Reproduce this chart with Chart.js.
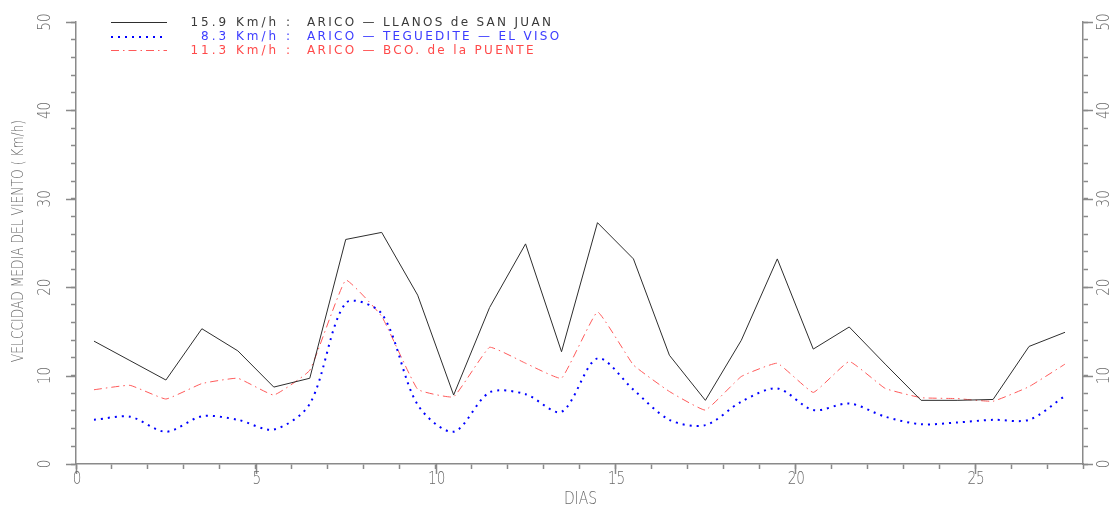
<!DOCTYPE html>
<html>
<head>
<meta charset="utf-8">
<script src="https://cdn.jsdelivr.net/npm/chart.js@4/dist/chart.umd.min.js"></script>
<style>
  html, body { margin: 0; padding: 0; background: #fff; }
  #wrap { width: 1113px; height: 508px; position: relative; }
  #c { display: block; }
</style>
</head>
<body>
<div id="wrap"><canvas id="c" width="1113" height="508"></canvas></div>
<script>
// Daily mean wind speed (km/h) at three Arico stations, days plotted at mid-day
const days = [0.5, 1.5, 2.5, 3.5, 4.5, 5.5, 6.5, 7.5, 8.5, 9.5, 10.5, 11.5, 12.5, 13.5,
              14.5, 15.5, 16.5, 17.5, 18.5, 19.5, 20.5, 21.5, 22.5, 23.5, 24.5, 25.5, 26.5, 27.5];
const llanosSanJuan = [13.9, 11.7, 9.5, 15.3, 12.8, 8.7, 9.7, 25.4, 26.2, 19.1, 7.8, 17.7, 24.9, 12.7,
                       27.3, 23.2, 12.3, 7.2, 14.0, 23.2, 13.0, 15.5, 11.3, 7.2, 7.2, 7.3, 13.3, 14.9];
const teguediteViso = [5.0, 5.35, 3.65, 5.4, 5.0, 3.9, 6.8, 18.2, 17.0, 6.7, 3.65, 8.1, 7.9, 5.9,
                       11.95, 8.4, 5.0, 4.4, 7.05, 8.55, 6.1, 6.85, 5.35, 4.5, 4.7, 5.0, 5.0, 7.7];
const bcoPuente = [8.4, 8.9, 7.35, 9.1, 9.7, 7.8, 10.6, 20.8, 16.7, 8.45, 7.6, 13.2, 11.4, 9.7,
                   17.2, 11.2, 8.2, 6.1, 9.9, 11.4, 8.1, 11.6, 8.55, 7.5, 7.4, 7.1, 8.75, 11.3];

const seriesMeans = ['15.9 Km/h :', '8.3 Km/h :', '11.3 Km/h :'];
const seriesNames = ['ARICO \u2014 LLANOS de SAN JUAN', 'ARICO \u2014 TEGUEDITE \u2014 EL VISO', 'ARICO \u2014 BCO. de la PUENTE'];
const xTitle = 'DIAS';
const yTitle = 'VELCCIDAD MEDIA DEL VIENTO ( Km/h)';
const xTickLabels = [0, 5, 10, 15, 20, 25];
const yTickLabels = [0, 10, 20, 30, 40, 50];

const AXIS_GRAY = '#8a8a8a';
const TEXT_GRAY = '#6a6a6a';
const FONT = '"DejaVu Sans", sans-serif';

const pts = (vals) => days.map((d, i) => ({ x: d, y: vals[i] }));

// draws condensed text: sx squeezes along the writing direction
function narrowText(ctx, text, x, y, angle, sx) {
  ctx.save();
  ctx.translate(x, y);
  ctx.rotate(angle);
  ctx.scale(sx, 1);
  ctx.fillText(text, 0, 0);
  ctx.restore();
}

// Legend, axis titles, tick labels and long major ticks
const decor = {
  id: 'decor',
  afterDraw(chart) {
    const ctx = chart.ctx;
    const area = chart.chartArea;
    const x = chart.scales.x, y = chart.scales.y, y2 = chart.scales.y2;
    ctx.save();

    // long ticks at labelled values
    ctx.strokeStyle = AXIS_GRAY;
    ctx.lineWidth = 1.5;
    xTickLabels.forEach(v => {
      const px = Math.round(x.getPixelForValue(v)) + 0.5;
      ctx.beginPath(); ctx.moveTo(px, area.bottom); ctx.lineTo(px, area.bottom + 10); ctx.stroke();
    });
    yTickLabels.forEach(v => {
      const py = Math.round(y.getPixelForValue(v)) + 0.5;
      ctx.beginPath(); ctx.moveTo(area.left - 10, py); ctx.lineTo(area.left, py); ctx.stroke();
      ctx.beginPath(); ctx.moveTo(area.right, py); ctx.lineTo(area.right + 10, py); ctx.stroke();
    });

    // tick labels
    ctx.fillStyle = TEXT_GRAY;
    ctx.font = '200 17px ' + FONT;
    ctx.textAlign = 'center';
    ctx.textBaseline = 'middle';
    xTickLabels.forEach(v => {
      narrowText(ctx, String(v), x.getPixelForValue(v) + 1, area.bottom + 16, 0, 0.8);
    });
    yTickLabels.forEach(v => {
      narrowText(ctx, String(v), area.left - 30, y.getPixelForValue(v), -Math.PI / 2, 0.8);
      narrowText(ctx, String(v), area.right + 22, y2.getPixelForValue(v), -Math.PI / 2, 0.8);
    });

    // axis titles
    narrowText(ctx, xTitle, (area.left + area.right) / 2 + 1, area.bottom + 36, 0, 0.82);
    ctx.font = '200 15px ' + FONT;
    narrowText(ctx, yTitle, 19, (area.top + area.bottom) / 2 - 2, -Math.PI / 2, 0.82);

    // legend
    const rows = [0, 14.5, 28];
    const colors = ['#3a3a3a', '#3c3cff', '#ff4a4a'];
    chart.data.datasets.forEach((ds, i) => {
      const ry = area.top + rows[i];
      ctx.strokeStyle = ds.borderColor;
      ctx.lineWidth = ds.borderWidth;
      ctx.setLineDash(ds.borderDash || []);
      ctx.beginPath(); ctx.moveTo(111, ry + 0.5); ctx.lineTo(167, ry + 0.5); ctx.stroke();
      ctx.setLineDash([]);
      ctx.fillStyle = colors[i];
      ctx.font = '12px ' + FONT;
      ctx.textAlign = 'right';
      ctx.letterSpacing = '3px';
      ctx.fillText(seriesMeans[i], 293, ry + 0.5);
      ctx.textAlign = 'left';
      ctx.letterSpacing = '2.3px';
      ctx.fillText(seriesNames[i], 307, ry + 0.5);
      ctx.letterSpacing = '0px';
    });
    ctx.restore();
  }
};

const chart = new Chart(document.getElementById('c'), {
  type: 'line',
  data: {
    datasets: [
      { label: seriesNames[0], data: pts(llanosSanJuan), borderColor: '#2e2e2e', borderWidth: 1,
        pointRadius: 0, tension: 0, fill: false },
      { label: seriesNames[1], data: pts(teguediteViso), borderColor: '#0000ff', borderWidth: 2,
        borderDash: [2, 5], borderCapStyle: 'butt', pointRadius: 0, tension: 0.3, fill: false },
      { label: seriesNames[2], data: pts(bcoPuente), borderColor: '#ff5a5a', borderWidth: 1,
        borderDash: [8, 4, 1.5, 4], pointRadius: 0, tension: 0.1, fill: false }
    ]
  },
  options: {
    responsive: false, animation: false, events: [],
    layout: { padding: { top: 22, left: 0, right: 0, bottom: 0 } },
    plugins: { legend: { display: false }, tooltip: { enabled: false } },
    scales: {
      x: { type: 'linear', min: 0, max: 28,
           border: { color: AXIS_GRAY, width: 1.5 },
           grid: { drawOnChartArea: false, tickLength: 5, tickColor: AXIS_GRAY, tickWidth: 1.5 },
           ticks: { stepSize: 1, display: false },
           afterFit: s => { s.height = 44; } },
      y: { type: 'linear', position: 'left', min: 0, max: 50,
           border: { color: AXIS_GRAY, width: 1.5 },
           grid: { drawOnChartArea: false, tickLength: 5, tickColor: AXIS_GRAY, tickWidth: 1.5 },
           ticks: { stepSize: 2, display: false }, afterFit: s => { s.width = 76; } },
      y2: { type: 'linear', position: 'right', min: 0, max: 50,
           border: { color: AXIS_GRAY, width: 1.5 },
           grid: { drawOnChartArea: false, tickLength: 5, tickColor: AXIS_GRAY, tickWidth: 1.5 },
           ticks: { stepSize: 2, display: false }, afterFit: s => { s.width = 30; } }
    }
  },
  plugins: [decor]
});
</script>
</body>
</html>
